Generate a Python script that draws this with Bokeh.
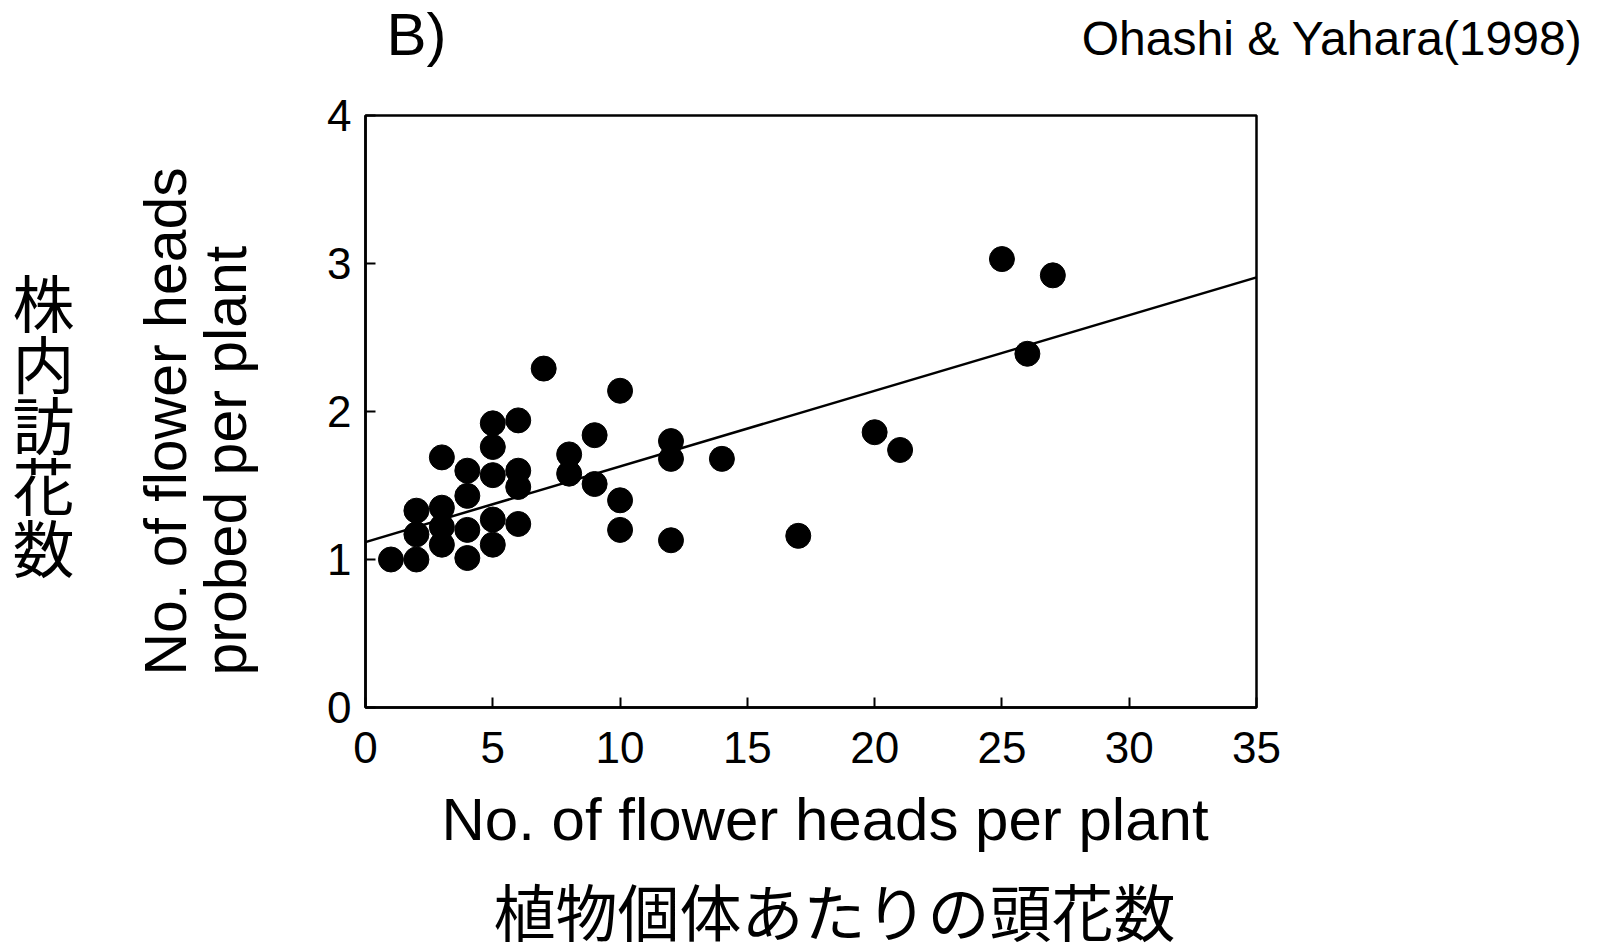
import math
from bokeh.plotting import figure
from bokeh.layouts import column, row
from bokeh.models import Range1d, FixedTicker, Slope
from bokeh.core.properties import value
from bokeh.embed import file_html
from bokeh.resources import INLINE

# ---------------- data ----------------
heads_per_plant = [1, 2, 2, 2,
                   3, 3, 3, 3,
                   4, 4, 4, 4,
                   5, 5, 5, 5, 5,
                   6, 6, 6, 6,
                   7, 8, 8, 9, 9,
                   10, 10, 10,
                   12, 12, 12,
                   14, 17, 20, 21, 25, 26, 27]
probed_per_plant = [1.00, 1.00, 1.33, 1.17,
                    1.69, 1.35, 1.22, 1.10,
                    1.60, 1.43, 1.20, 1.01,
                    1.92, 1.76, 1.57, 1.27, 1.10,
                    1.94, 1.60, 1.49, 1.24,
                    2.29, 1.71, 1.58, 1.84, 1.51,
                    2.14, 1.40, 1.20,
                    1.80, 1.68, 1.13,
                    1.68, 1.16, 1.86, 1.74, 3.03, 2.39, 2.92]
fit_intercept = 1.118
fit_slope = 0.0511

x_ticks = [0, 5, 10, 15, 20, 25, 30, 35]
y_ticks = [0, 1, 2, 3, 4]

panel_label = "B)"
source_label = "Ohashi & Yahara(1998)"
x_label_en = "No. of flower heads per plant"
x_label_ja = "植物個体あたりの頭花数"
y_label_en = ["No. of flower heads", "probed per plant"]
y_label_ja = "株内訪花数"

LAT = "Liberation Sans"
CJK = "Noto Sans CJK JP"

# ---------------- layout (page pixels) ----------------
PAGE_W, PAGE_H = 1602, 943
TOP_H = 90
LEFT_W = 300
MAIN_W = PAGE_W - LEFT_W
MAIN_H = 687
BOTTOM_H = PAGE_H - TOP_H - MAIN_H
B_TOP, B_LEFT, B_BOTTOM = 25, 65, 70
FRAME_W = 891
FRAME_H = MAIN_H - B_TOP - B_BOTTOM
B_RIGHT = MAIN_W - B_LEFT - FRAME_W
FRAME_TOP_PAGE = TOP_H + B_TOP
FRAME_BOTTOM_PAGE = FRAME_TOP_PAGE + FRAME_H


def text_panel(w, h, x0, y_top, y_bottom, border_top=0, border_bottom=0):
    """A plain figure whose data coordinates equal page pixels."""
    f = figure(width=w, height=h, output_backend="svg", toolbar_location=None,
               x_range=Range1d(x0, x0 + w), y_range=Range1d(y_bottom, y_top),
               x_axis_type=None, y_axis_type=None, title=None,
               min_border_left=0, min_border_right=0,
               min_border_top=border_top, min_border_bottom=border_bottom,
               background_fill_color="white", border_fill_color="white")
    f.outline_line_color = None
    return f


def put(f, x, y, text, font, size, align="left", baseline="alphabetic", angle=0.0):
    f.text(x=[x], y=[y], text=[text], text_font=value(font),
           text_font_size=value(size), text_align=align,
           text_baseline=baseline, angle=angle, text_color="black")


# ---- main chart ----
p = figure(width=MAIN_W, height=MAIN_H, output_backend="svg", toolbar_location=None,
           x_range=Range1d(0, 35), y_range=Range1d(0, 4), title=None,
           min_border_left=B_LEFT, min_border_right=B_RIGHT,
           min_border_top=B_TOP, min_border_bottom=B_BOTTOM,
           background_fill_color="white", border_fill_color="white")
p.xgrid.visible = False
p.ygrid.visible = False
p.outline_line_color = "black"
p.outline_line_width = 2.5

for ax in (p.xaxis[0], p.yaxis[0]):
    ax.axis_line_width = 2.5
    ax.axis_line_color = "black"
    ax.major_tick_in = 10
    ax.major_tick_out = 0
    ax.major_tick_line_width = 2
    ax.major_tick_line_color = "black"
    ax.minor_tick_line_color = None
    ax.major_label_text_font = LAT
    ax.major_label_text_font_size = "44px"
    ax.major_label_text_color = "black"

p.xaxis[0].ticker = FixedTicker(ticks=x_ticks)
p.yaxis[0].ticker = FixedTicker(ticks=y_ticks)
p.xaxis[0].major_label_standoff = 24
p.yaxis[0].major_label_standoff = 14

p.add_layout(Slope(gradient=fit_slope, y_intercept=fit_intercept,
                   line_color="black", line_width=2.5))
p.scatter(heads_per_plant, probed_per_plant, marker="circle", size=25,
          fill_color="black", line_color="black")

# ---- header ----
top = text_panel(PAGE_W, TOP_H, 0, 0, TOP_H)
put(top, 386, 34, panel_label, LAT, "60px")
put(top, 1582, 37.6, source_label, LAT, "48px", align="right")

# ---- left labels (frame aligned with the chart frame) ----
left = text_panel(LEFT_W, MAIN_H, 0, FRAME_TOP_PAGE, FRAME_BOTTOM_PAGE,
                  border_top=B_TOP, border_bottom=B_BOTTOM)
put(left, 165, 675, y_label_en[0], LAT, "59px", angle=math.pi / 2)
put(left, 225, 675, y_label_en[1], LAT, "59px", angle=math.pi / 2)
for i, ch in enumerate(y_label_ja):
    put(left, 43, 300 + 61.3 * i, ch, CJK, "62px", align="center", baseline="middle")

# ---- bottom labels ----
bottom = text_panel(PAGE_W, BOTTOM_H, 0, TOP_H + MAIN_H, PAGE_H)
put(bottom, 441, 819, x_label_en, LAT, "60px")
put(bottom, 834, 909, x_label_ja, CJK, "62px", align="center", baseline="middle")

layout = column(top, row(left, p, spacing=0), bottom, spacing=0)

open("out.html", "w").write(file_html(layout, INLINE))
